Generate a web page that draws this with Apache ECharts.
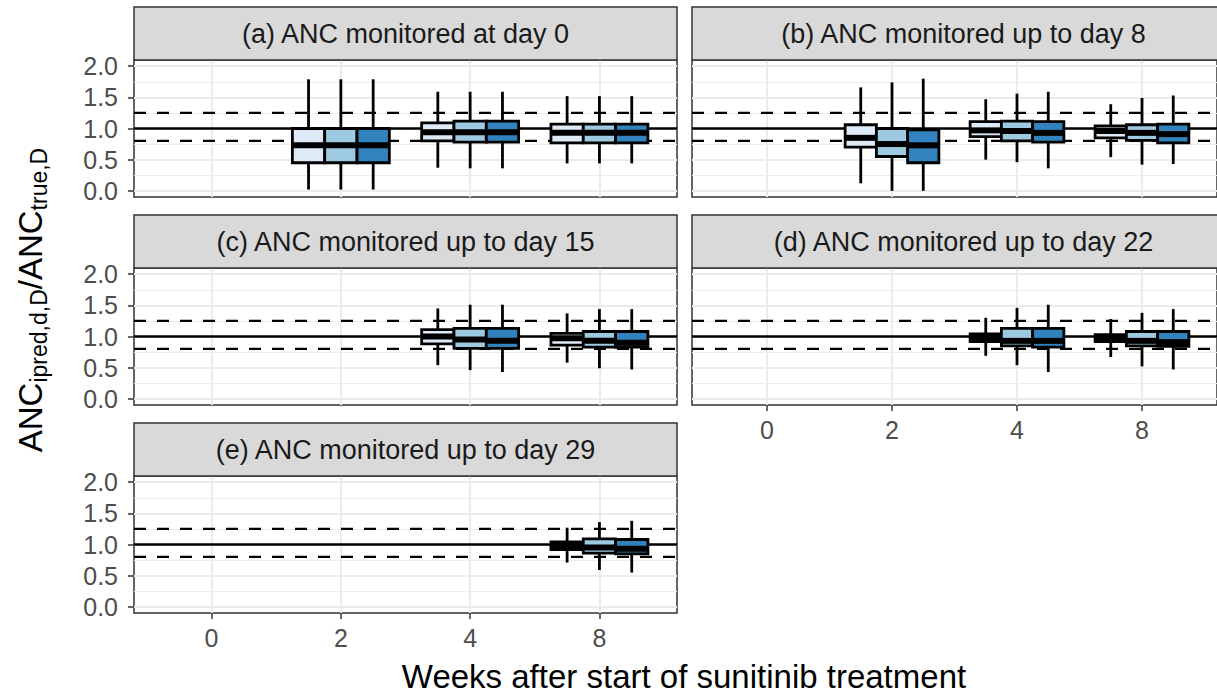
<!DOCTYPE html>
<html>
<head>
<meta charset="utf-8">
<script src="https://cdn.jsdelivr.net/npm/echarts@6/dist/echarts.min.js"></script>
<style>
  html, body { margin: 0; padding: 0; background: #fff; }
  #main { width: 1217px; height: 695px; }
</style>
</head>
<body>
<div id="main"></div>
<script>
// categories and tick labels
const weeks = ['0', '2', '4', '8'];
const yTicks = [0, 0.5, 1, 1.5, 2];
const yMinor = [0.25, 0.75, 1.25, 1.75];
const refLines = [1, 0.8, 1.25];
const fills = ['#deebf7', '#9ecae1', '#3182bd'];
const stripLabels = [
  '(a) ANC monitored at day 0',
  '(b) ANC monitored up to day 8',
  '(c) ANC monitored up to day 15',
  '(d) ANC monitored up to day 22',
  '(e) ANC monitored up to day 29'
];

// [week index, group, lower whisker, q1, median, q3, upper whisker]
const panelA = [
  [1, 0, 0.02, 0.45, 0.73, 1.00, 1.79],
  [1, 1, 0.02, 0.45, 0.73, 1.00, 1.79],
  [1, 2, 0.02, 0.45, 0.73, 1.00, 1.79],
  [2, 0, 0.37, 0.80, 0.94, 1.09, 1.59],
  [2, 1, 0.36, 0.78, 0.94, 1.12, 1.59],
  [2, 2, 0.36, 0.78, 0.94, 1.12, 1.59],
  [3, 0, 0.44, 0.77, 0.93, 1.07, 1.52],
  [3, 1, 0.44, 0.77, 0.93, 1.07, 1.52],
  [3, 2, 0.44, 0.77, 0.93, 1.07, 1.52]
];
const panelB = [
  [1, 0, 0.12, 0.70, 0.85, 1.06, 1.66],
  [1, 1, 0.00, 0.55, 0.75, 1.00, 1.74],
  [1, 2, 0.00, 0.45, 0.73, 0.98, 1.80],
  [2, 0, 0.50, 0.87, 0.97, 1.11, 1.47],
  [2, 1, 0.46, 0.80, 0.96, 1.12, 1.56],
  [2, 2, 0.36, 0.78, 0.93, 1.11, 1.59],
  [3, 0, 0.54, 0.85, 0.96, 1.04, 1.39],
  [3, 1, 0.42, 0.81, 0.93, 1.06, 1.49],
  [3, 2, 0.43, 0.77, 0.91, 1.07, 1.53]
];
const panelC = [
  [2, 0, 0.54, 0.88, 1.00, 1.11, 1.45],
  [2, 1, 0.46, 0.81, 0.95, 1.13, 1.51],
  [2, 2, 0.43, 0.81, 0.93, 1.13, 1.51],
  [3, 0, 0.58, 0.86, 0.97, 1.05, 1.37],
  [3, 1, 0.49, 0.83, 0.93, 1.08, 1.44],
  [3, 2, 0.47, 0.83, 0.90, 1.08, 1.44]
];
const panelD = [
  [2, 0, 0.69, 0.92, 0.98, 1.04, 1.30],
  [2, 1, 0.54, 0.85, 0.93, 1.13, 1.46],
  [2, 2, 0.43, 0.83, 0.93, 1.13, 1.51],
  [3, 0, 0.67, 0.92, 0.97, 1.03, 1.28],
  [3, 1, 0.52, 0.85, 0.93, 1.08, 1.38],
  [3, 2, 0.47, 0.84, 0.91, 1.08, 1.44]
];
const panelE = [
  [3, 0, 0.71, 0.92, 0.975, 1.04, 1.27],
  [3, 1, 0.59, 0.86, 0.95, 1.09, 1.36],
  [3, 2, 0.55, 0.85, 0.93, 1.08, 1.38]
];
const panels = [panelA, panelB, panelC, panelD, panelE];

const FONT = 'Liberation Sans, Arial, sans-serif';
const colLeft = [134, 692];
const rowTop = [7, 215, 423];
const panelW = 543, stripH = 53, plotH = 137;
const place = [[0, 0], [1, 0], [0, 1], [1, 1], [0, 2]];
const showX = [false, false, false, true, true];
const showY = [true, false, true, false, true];

function renderBox(params, api) {
  const g = api.value(1);
  const x = api.value(0) + (g - 1) * 0.25;
  const tl = api.coord([x - 0.125, api.value(5)]);
  const br = api.coord([x + 0.125, api.value(3)]);
  const hi = api.coord([x, api.value(6)]);
  const lo = api.coord([x, api.value(2)]);
  const md = api.coord([x, api.value(4)]);
  const ln = { stroke: '#000', lineWidth: 2.8 };
  return {
    type: 'group',
    children: [
      { type: 'line', shape: { x1: hi[0], y1: hi[1], x2: hi[0], y2: tl[1] }, style: ln },
      { type: 'line', shape: { x1: lo[0], y1: br[1], x2: lo[0], y2: lo[1] }, style: ln },
      { type: 'rect', shape: { x: tl[0], y: tl[1], width: br[0] - tl[0], height: br[1] - tl[1] },
        style: { fill: fills[g], stroke: '#000', lineWidth: 2.8 } },
      { type: 'line', shape: { x1: tl[0], y1: md[1], x2: br[0], y2: md[1] },
        style: { stroke: '#000', lineWidth: 6 } }
    ]
  };
}

function renderRef(params, api) {
  const v = api.value(1);
  const a = api.coord([-0.6, v]);
  const b = api.coord([3.6, v]);
  return {
    type: 'line',
    shape: { x1: a[0], y1: a[1], x2: b[0], y2: b[1] },
    style: { stroke: '#000', lineWidth: 2.3, lineDash: v === 1 ? null : [12, 11] }
  };
}

const grid = [], xAxis = [], yAxis = [], series = [], graphic = [];
const clear = 'rgba(0,0,0,0)';

panels.forEach(function (data, i) {
  const left = colLeft[place[i][0]];
  const top = rowTop[place[i][1]];
  grid.push({ left: left, top: top + stripH, width: panelW, height: plotH,
    show: true, borderColor: '#333', borderWidth: 1.5, backgroundColor: '#fff' });
  xAxis.push({
    type: 'value', gridIndex: i, min: -0.6, max: 3.6, position: 'bottom',
    axisLine: { show: false, onZero: false },
    axisTick: { show: true, customValues: [0, 1, 2, 3], length: 6,
      lineStyle: { color: showX[i] ? '#333' : clear, width: 1.5 } },
    axisLabel: { show: showX[i], customValues: [0, 1, 2, 3], margin: 12,
      formatter: function (v) { return weeks[v]; },
      fontSize: 25, color: '#4d4d4d', fontFamily: FONT },
    splitLine: { show: true, lineStyle: { color: '#ebebeb', width: 2 } }
  });
  yAxis.push({
    type: 'value', gridIndex: i, min: -0.1, max: 2.1, position: 'left',
    axisLine: { show: false, onZero: false },
    axisTick: { show: true, customValues: yTicks, length: 6,
      lineStyle: { color: showY[i] ? '#333' : clear, width: 1.5 } },
    axisLabel: { show: showY[i], customValues: yTicks, margin: 16,
      formatter: function (v) { return v.toFixed(1); },
      fontSize: 25, color: '#4d4d4d', fontFamily: FONT },
    splitLine: { show: true, lineStyle: { color: '#ebebeb', width: 2 } }
  });
  yAxis.push({
    type: 'value', gridIndex: i, min: -0.1, max: 2.1, position: 'left',
    axisLine: { show: false, onZero: false },
    axisTick: { show: true, customValues: yMinor, length: 0, lineStyle: { color: clear } },
    axisLabel: { show: false },
    splitLine: { show: true, lineStyle: { color: '#ebebeb', width: 1 } }
  });
  series.push({
    type: 'custom', xAxisIndex: i, yAxisIndex: i * 2, z: 2, silent: true,
    renderItem: renderRef, encode: { x: 0, y: 1 },
    data: refLines.map(function (v) { return [0, v]; })
  });
  series.push({
    type: 'custom', xAxisIndex: i, yAxisIndex: i * 2, z: 3, silent: true,
    renderItem: renderBox, encode: { x: 0, y: 4 },
    data: data
  });
  graphic.push({
    type: 'rect', z: 10,
    shape: { x: left, y: top, width: panelW, height: stripH },
    style: { fill: '#d9d9d9', stroke: '#333', lineWidth: 1.5 }
  });
  graphic.push({
    type: 'text', z: 11, x: left + panelW / 2, y: top + stripH / 2,
    style: { text: stripLabels[i], fontSize: 27, fontFamily: FONT, fill: '#1a1a1a',
      align: 'center', verticalAlign: 'middle' }
  });
});

graphic.push({
  type: 'text', z: 11, x: 684, y: 676,
  style: { text: 'Weeks after start of sunitinib treatment', fontSize: 33, lineHeight: 34,
    fontFamily: FONT, fill: '#000', align: 'center', verticalAlign: 'middle' }
});
graphic.push({
  type: 'text', z: 11, x: 30, y: 300, rotation: Math.PI / 2,
  style: {
    text: '{m|ANC}{s|ipred,d,D}{m|/ANC}{s|true,D}',
    align: 'center', verticalAlign: 'middle',
    rich: {
      m: { fontSize: 33, fontFamily: FONT, fill: '#000', lineHeight: 40 },
      s: { fontSize: 23, fontFamily: FONT, fill: '#000', lineHeight: 22, verticalAlign: 'bottom' }
    }
  }
});

const chart = echarts.init(document.getElementById('main'), null, { renderer: 'svg' });
chart.setOption({
  animation: false,
  backgroundColor: '#fff',
  grid: grid,
  xAxis: xAxis,
  yAxis: yAxis,
  series: series,
  graphic: graphic
});
</script>
</body>
</html>
